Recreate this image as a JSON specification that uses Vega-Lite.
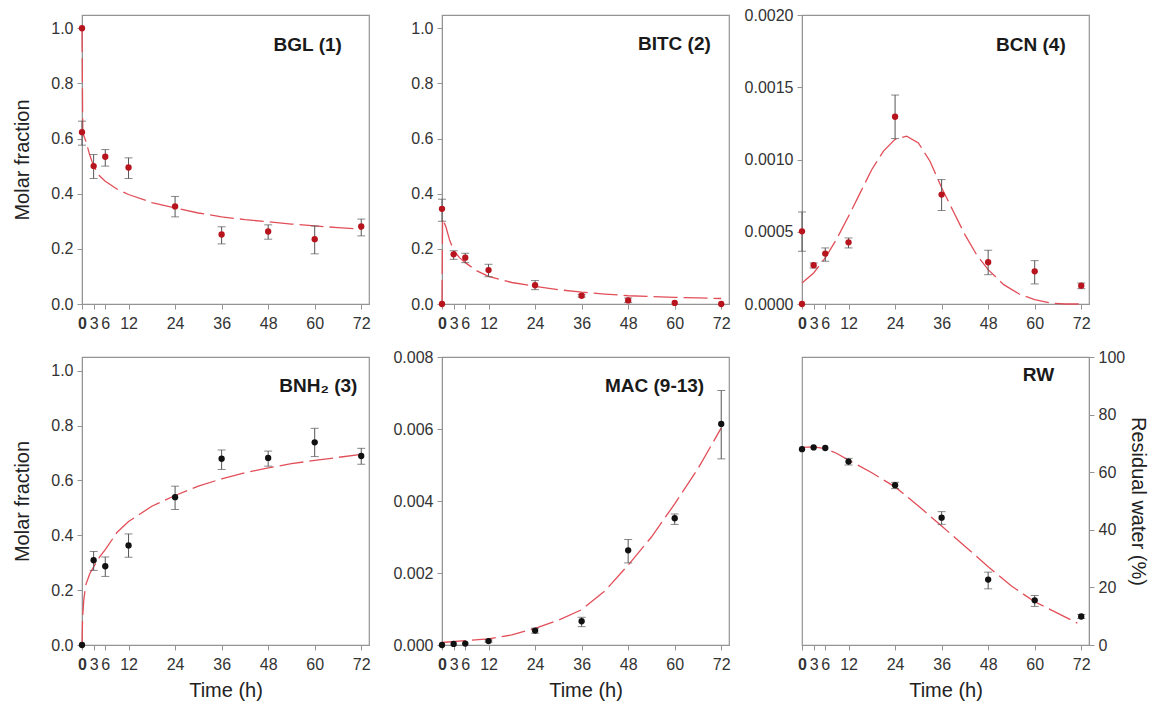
{
  "$schema": "https://vega.github.io/schema/vega-lite/v6.json",
  "padding": {"left": 12, "top": 6, "right": 5, "bottom": 5},
  "bounds": "flush",
  "columns": 3,
  "spacing": {"row": 53, "column": 73},
  "config": {
    "font": "Liberation Sans",
    "view": {"stroke": "#949494", "strokeWidth": 1.2},
    "axis": {"domainColor": "#949494", "tickColor": "#949494", "tickSize": 5, "labelFontSize": 16, "labelColor": "#333333", "titleFontSize": 20, "titleFontWeight": "normal", "titleColor": "#222222", "grid": false, "labelPadding": 4},
    "axisX": {"labelPadding": 6, "titlePadding": 8}
  },
  "datasets": {
    "points": [
      {"p": "BGL", "t": 0, "v": 1.0, "lo": null, "hi": null},
      {"p": "BGL", "t": 0, "v": 0.623, "lo": 0.576, "hi": 0.663},
      {"p": "BGL", "t": 3, "v": 0.5, "lo": 0.455, "hi": 0.542},
      {"p": "BGL", "t": 6, "v": 0.534, "lo": 0.5, "hi": 0.56},
      {"p": "BGL", "t": 12, "v": 0.495, "lo": 0.455, "hi": 0.53},
      {"p": "BGL", "t": 24, "v": 0.354, "lo": 0.316, "hi": 0.39},
      {"p": "BGL", "t": 36, "v": 0.252, "lo": 0.218, "hi": 0.28},
      {"p": "BGL", "t": 48, "v": 0.263, "lo": 0.235, "hi": 0.287},
      {"p": "BGL", "t": 60, "v": 0.235, "lo": 0.182, "hi": 0.283},
      {"p": "BGL", "t": 72, "v": 0.281, "lo": 0.247, "hi": 0.308},
      {"p": "BITC", "t": 0, "v": 0.0, "lo": null, "hi": null},
      {"p": "BITC", "t": 0, "v": 0.345, "lo": 0.3, "hi": 0.38},
      {"p": "BITC", "t": 3, "v": 0.18, "lo": 0.162, "hi": 0.193},
      {"p": "BITC", "t": 6, "v": 0.168, "lo": 0.15, "hi": 0.184},
      {"p": "BITC", "t": 12, "v": 0.123, "lo": 0.099, "hi": 0.144},
      {"p": "BITC", "t": 24, "v": 0.068, "lo": 0.052, "hi": 0.085},
      {"p": "BITC", "t": 36, "v": 0.03, "lo": 0.025, "hi": 0.035},
      {"p": "BITC", "t": 48, "v": 0.013, "lo": 0.005, "hi": 0.022},
      {"p": "BITC", "t": 60, "v": 0.004, "lo": null, "hi": null},
      {"p": "BITC", "t": 72, "v": 0.0, "lo": null, "hi": null},
      {"p": "BCN", "t": 0, "v": 0.0, "lo": null, "hi": null},
      {"p": "BCN", "t": 0, "v": 0.000503, "lo": 0.000365, "hi": 0.000637},
      {"p": "BCN", "t": 3, "v": 0.000268, "lo": 0.000249, "hi": 0.000284},
      {"p": "BCN", "t": 6, "v": 0.000349, "lo": 0.000296, "hi": 0.000388},
      {"p": "BCN", "t": 12, "v": 0.000427, "lo": 0.000388, "hi": 0.000457},
      {"p": "BCN", "t": 24, "v": 0.001296, "lo": 0.001145, "hi": 0.001446},
      {"p": "BCN", "t": 36, "v": 0.000757, "lo": 0.000647, "hi": 0.000861},
      {"p": "BCN", "t": 48, "v": 0.000289, "lo": 0.000203, "hi": 0.000372},
      {"p": "BCN", "t": 60, "v": 0.000226, "lo": 0.000139, "hi": 0.0003},
      {"p": "BCN", "t": 72, "v": 0.000127, "lo": 0.000106, "hi": 0.000145},
      {"p": "BNH", "t": 0, "v": 0.0, "lo": null, "hi": null},
      {"p": "BNH", "t": 3, "v": 0.309, "lo": 0.272, "hi": 0.341},
      {"p": "BNH", "t": 6, "v": 0.287, "lo": 0.25, "hi": 0.321},
      {"p": "BNH", "t": 12, "v": 0.363, "lo": 0.32, "hi": 0.405},
      {"p": "BNH", "t": 24, "v": 0.539, "lo": 0.494, "hi": 0.579},
      {"p": "BNH", "t": 36, "v": 0.679, "lo": 0.64, "hi": 0.711},
      {"p": "BNH", "t": 48, "v": 0.682, "lo": 0.652, "hi": 0.707},
      {"p": "BNH", "t": 60, "v": 0.739, "lo": 0.687, "hi": 0.79},
      {"p": "BNH", "t": 72, "v": 0.689, "lo": 0.659, "hi": 0.717},
      {"p": "MAC", "t": 0, "v": 0.0, "lo": null, "hi": null},
      {"p": "MAC", "t": 3, "v": 0.00003, "lo": null, "hi": null},
      {"p": "MAC", "t": 6, "v": 0.00004, "lo": null, "hi": null},
      {"p": "MAC", "t": 12, "v": 0.00011, "lo": 0.00008, "hi": 0.00014},
      {"p": "MAC", "t": 24, "v": 0.0004, "lo": 0.000326, "hi": 0.000465},
      {"p": "MAC", "t": 36, "v": 0.00066, "lo": 0.00051, "hi": 0.00077},
      {"p": "MAC", "t": 48, "v": 0.00263, "lo": 0.00228, "hi": 0.00293},
      {"p": "MAC", "t": 60, "v": 0.00352, "lo": 0.00335, "hi": 0.00364},
      {"p": "MAC", "t": 72, "v": 0.00614, "lo": 0.00517, "hi": 0.00707},
      {"p": "RW", "t": 0, "v": 68.0, "lo": null, "hi": null},
      {"p": "RW", "t": 3, "v": 68.6, "lo": null, "hi": null},
      {"p": "RW", "t": 6, "v": 68.4, "lo": null, "hi": null},
      {"p": "RW", "t": 12, "v": 63.7, "lo": 62.5, "hi": 64.8},
      {"p": "RW", "t": 24, "v": 55.5, "lo": 54.3, "hi": 56.5},
      {"p": "RW", "t": 36, "v": 44.2, "lo": 41.9, "hi": 46.3},
      {"p": "RW", "t": 48, "v": 22.7, "lo": 19.5, "hi": 25.3},
      {"p": "RW", "t": 60, "v": 15.5, "lo": 13.4, "hi": 17.2},
      {"p": "RW", "t": 72, "v": 9.9, "lo": 9.2, "hi": 10.6}
    ],
    "curves": [
      {"p": "BGL", "t": 0, "v": 1.0}, {"p": "BGL", "t": 0.2, "v": 0.62}, {"p": "BGL", "t": 1, "v": 0.59}, {"p": "BGL", "t": 2, "v": 0.54}, {"p": "BGL", "t": 3, "v": 0.5}, {"p": "BGL", "t": 4.5, "v": 0.465}, {"p": "BGL", "t": 6, "v": 0.445}, {"p": "BGL", "t": 9, "v": 0.417}, {"p": "BGL", "t": 12, "v": 0.397}, {"p": "BGL", "t": 18, "v": 0.368}, {"p": "BGL", "t": 24, "v": 0.348}, {"p": "BGL", "t": 30, "v": 0.33}, {"p": "BGL", "t": 36, "v": 0.316}, {"p": "BGL", "t": 42, "v": 0.306}, {"p": "BGL", "t": 48, "v": 0.298}, {"p": "BGL", "t": 54, "v": 0.29}, {"p": "BGL", "t": 60, "v": 0.283}, {"p": "BGL", "t": 66, "v": 0.277}, {"p": "BGL", "t": 72, "v": 0.271},
      {"p": "BITC", "t": 0, "v": 0.0}, {"p": "BITC", "t": 0.15, "v": 0.31}, {"p": "BITC", "t": 1, "v": 0.28}, {"p": "BITC", "t": 2, "v": 0.23}, {"p": "BITC", "t": 3, "v": 0.195}, {"p": "BITC", "t": 4.5, "v": 0.168}, {"p": "BITC", "t": 6, "v": 0.15}, {"p": "BITC", "t": 9, "v": 0.12}, {"p": "BITC", "t": 12, "v": 0.1}, {"p": "BITC", "t": 18, "v": 0.078}, {"p": "BITC", "t": 24, "v": 0.064}, {"p": "BITC", "t": 30, "v": 0.052}, {"p": "BITC", "t": 36, "v": 0.043}, {"p": "BITC", "t": 42, "v": 0.036}, {"p": "BITC", "t": 48, "v": 0.03}, {"p": "BITC", "t": 54, "v": 0.027}, {"p": "BITC", "t": 60, "v": 0.024}, {"p": "BITC", "t": 66, "v": 0.022}, {"p": "BITC", "t": 72, "v": 0.02},
      {"p": "BCN", "t": 0, "v": 0.000145}, {"p": "BCN", "t": 3, "v": 0.000215}, {"p": "BCN", "t": 6, "v": 0.000319}, {"p": "BCN", "t": 9, "v": 0.000453}, {"p": "BCN", "t": 12, "v": 0.000607}, {"p": "BCN", "t": 15, "v": 0.000769}, {"p": "BCN", "t": 18, "v": 0.000931}, {"p": "BCN", "t": 21, "v": 0.001058}, {"p": "BCN", "t": 24, "v": 0.001139}, {"p": "BCN", "t": 27, "v": 0.001162}, {"p": "BCN", "t": 30, "v": 0.001115}, {"p": "BCN", "t": 33, "v": 0.000988}, {"p": "BCN", "t": 36, "v": 0.000804}, {"p": "BCN", "t": 39, "v": 0.000642}, {"p": "BCN", "t": 42, "v": 0.00048}, {"p": "BCN", "t": 45, "v": 0.000342}, {"p": "BCN", "t": 48, "v": 0.000238}, {"p": "BCN", "t": 52, "v": 0.000134}, {"p": "BCN", "t": 56, "v": 0.000069}, {"p": "BCN", "t": 60, "v": 0.00003}, {"p": "BCN", "t": 64, "v": 0.000007}, {"p": "BCN", "t": 68, "v": 0.0}, {"p": "BCN", "t": 72, "v": 0.0},
      {"p": "BNH", "t": 0, "v": 0.0}, {"p": "BNH", "t": 0.15, "v": 0.1}, {"p": "BNH", "t": 0.5, "v": 0.17}, {"p": "BNH", "t": 1, "v": 0.22}, {"p": "BNH", "t": 2, "v": 0.26}, {"p": "BNH", "t": 3, "v": 0.285}, {"p": "BNH", "t": 4.5, "v": 0.32}, {"p": "BNH", "t": 6, "v": 0.348}, {"p": "BNH", "t": 9, "v": 0.41}, {"p": "BNH", "t": 12, "v": 0.45}, {"p": "BNH", "t": 18, "v": 0.506}, {"p": "BNH", "t": 24, "v": 0.545}, {"p": "BNH", "t": 30, "v": 0.579}, {"p": "BNH", "t": 36, "v": 0.606}, {"p": "BNH", "t": 42, "v": 0.628}, {"p": "BNH", "t": 48, "v": 0.646}, {"p": "BNH", "t": 54, "v": 0.661}, {"p": "BNH", "t": 60, "v": 0.673}, {"p": "BNH", "t": 66, "v": 0.684}, {"p": "BNH", "t": 72, "v": 0.695},
      {"p": "MAC", "t": 0, "v": 0.00007}, {"p": "MAC", "t": 6, "v": 0.00012}, {"p": "MAC", "t": 12, "v": 0.00017}, {"p": "MAC", "t": 18, "v": 0.00028}, {"p": "MAC", "t": 24, "v": 0.00046}, {"p": "MAC", "t": 30, "v": 0.00069}, {"p": "MAC", "t": 36, "v": 0.00098}, {"p": "MAC", "t": 42, "v": 0.0015}, {"p": "MAC", "t": 48, "v": 0.00222}, {"p": "MAC", "t": 54, "v": 0.003}, {"p": "MAC", "t": 60, "v": 0.00392}, {"p": "MAC", "t": 66, "v": 0.0049}, {"p": "MAC", "t": 72, "v": 0.00603},
      {"p": "RW", "t": 0, "v": 68.6}, {"p": "RW", "t": 3, "v": 68.8}, {"p": "RW", "t": 6, "v": 68.2}, {"p": "RW", "t": 9, "v": 66.5}, {"p": "RW", "t": 12, "v": 64.2}, {"p": "RW", "t": 18, "v": 59.8}, {"p": "RW", "t": 24, "v": 54.9}, {"p": "RW", "t": 30, "v": 48.3}, {"p": "RW", "t": 36, "v": 41.3}, {"p": "RW", "t": 42, "v": 34.3}, {"p": "RW", "t": 48, "v": 27.2}, {"p": "RW", "t": 54, "v": 20.5}, {"p": "RW", "t": 60, "v": 15.0}, {"p": "RW", "t": 66, "v": 11.0}, {"p": "RW", "t": 71, "v": 7.6}
    ]
  },
  "concat": [
    {
      "width": 287, "height": 289,
      "layer": [
        {"data": {"name": "curves"}, "transform": [{"filter": "datum.p == 'BGL'"}], "mark": {"type": "line", "color": "#e24e58", "strokeWidth": 1.3, "strokeDash": [24, 6]},
         "encoding": {"x": {"field": "t", "type": "quantitative", "scale": {"domain": [0, 74], "nice": false, "zero": false}, "axis": {"values": [0, 3, 6, 12, 24, 36, 48, 60, 72], "title": null, "labelFlush": false, "labelOverlap": false, "labelFontWeight": {"condition": {"test": "datum.value == 0", "value": "bold"}, "value": "normal"}}},
                      "y": {"field": "v", "type": "quantitative", "scale": {"domain": [0, 1.048], "nice": false}, "axis": {"values": [0, 0.2, 0.4, 0.6, 0.8, 1.0], "format": ".1f", "title": "Molar fraction", "titlePadding": 18}}}},
        {"data": {"name": "points"}, "transform": [{"filter": "datum.p == 'BGL' && datum.lo != null"}], "mark": {"type": "errorbar", "ticks": true, "size": 8, "thickness": 1, "color": "#555555"},
         "encoding": {"x": {"field": "t", "type": "quantitative", "scale": {"domain": [0, 74], "nice": false, "zero": false}, "axis": {"values": [0, 3, 6, 12, 24, 36, 48, 60, 72], "title": null, "labelFlush": false, "labelOverlap": false, "labelFontWeight": {"condition": {"test": "datum.value == 0", "value": "bold"}, "value": "normal"}}},
                      "y": {"field": "lo", "type": "quantitative", "scale": {"domain": [0, 1.048], "nice": false}, "axis": {"values": [0, 0.2, 0.4, 0.6, 0.8, 1.0], "format": ".1f", "title": "Molar fraction", "titlePadding": 18}},
                      "y2": {"field": "hi"}}},
        {"data": {"name": "points"}, "transform": [{"filter": "datum.p == 'BGL'"}], "mark": {"type": "circle", "size": 40, "opacity": 1, "color": "#b8141e"},
         "encoding": {"x": {"field": "t", "type": "quantitative", "scale": {"domain": [0, 74], "nice": false, "zero": false}, "axis": {"values": [0, 3, 6, 12, 24, 36, 48, 60, 72], "title": null, "labelFlush": false, "labelOverlap": false, "labelFontWeight": {"condition": {"test": "datum.value == 0", "value": "bold"}, "value": "normal"}}},
                      "y": {"field": "v", "type": "quantitative", "scale": {"domain": [0, 1.048], "nice": false}, "axis": {"values": [0, 0.2, 0.4, 0.6, 0.8, 1.0], "format": ".1f", "title": "Molar fraction", "titlePadding": 18}}}},
        {"data": {"values": [{}]}, "mark": {"type": "text", "text": "BGL (1)", "align": "right", "baseline": "middle", "fontSize": 19, "fontWeight": "bold", "color": "#1a1a1a"},
         "encoding": {"x": {"datum": 67, "type": "quantitative", "scale": {"domain": [0, 74], "nice": false, "zero": false}, "axis": {"values": [0, 3, 6, 12, 24, 36, 48, 60, 72], "title": null, "labelFlush": false, "labelOverlap": false, "labelFontWeight": {"condition": {"test": "datum.value == 0", "value": "bold"}, "value": "normal"}}},
                      "y": {"datum": 0.941, "type": "quantitative", "scale": {"domain": [0, 1.048], "nice": false}, "axis": {"values": [0, 0.2, 0.4, 0.6, 0.8, 1.0], "format": ".1f", "title": "Molar fraction", "titlePadding": 18}}}}
      ]
    },
    {
      "width": 287, "height": 289,
      "layer": [
        {"data": {"name": "curves"}, "transform": [{"filter": "datum.p == 'BITC'"}], "mark": {"type": "line", "color": "#e24e58", "strokeWidth": 1.3, "strokeDash": [24, 6]},
         "encoding": {"x": {"field": "t", "type": "quantitative", "scale": {"domain": [0, 74], "nice": false, "zero": false}, "axis": {"values": [0, 3, 6, 12, 24, 36, 48, 60, 72], "title": null, "labelFlush": false, "labelOverlap": false, "labelFontWeight": {"condition": {"test": "datum.value == 0", "value": "bold"}, "value": "normal"}}},
                      "y": {"field": "v", "type": "quantitative", "scale": {"domain": [0, 1.048], "nice": false}, "axis": {"values": [0, 0.2, 0.4, 0.6, 0.8, 1.0], "format": ".1f", "title": null}}}},
        {"data": {"name": "points"}, "transform": [{"filter": "datum.p == 'BITC' && datum.lo != null"}], "mark": {"type": "errorbar", "ticks": true, "size": 8, "thickness": 1, "color": "#555555"},
         "encoding": {"x": {"field": "t", "type": "quantitative", "scale": {"domain": [0, 74], "nice": false, "zero": false}, "axis": {"values": [0, 3, 6, 12, 24, 36, 48, 60, 72], "title": null, "labelFlush": false, "labelOverlap": false, "labelFontWeight": {"condition": {"test": "datum.value == 0", "value": "bold"}, "value": "normal"}}},
                      "y": {"field": "lo", "type": "quantitative", "scale": {"domain": [0, 1.048], "nice": false}, "axis": {"values": [0, 0.2, 0.4, 0.6, 0.8, 1.0], "format": ".1f", "title": null}},
                      "y2": {"field": "hi"}}},
        {"data": {"name": "points"}, "transform": [{"filter": "datum.p == 'BITC'"}], "mark": {"type": "circle", "size": 40, "opacity": 1, "color": "#b8141e"},
         "encoding": {"x": {"field": "t", "type": "quantitative", "scale": {"domain": [0, 74], "nice": false, "zero": false}, "axis": {"values": [0, 3, 6, 12, 24, 36, 48, 60, 72], "title": null, "labelFlush": false, "labelOverlap": false, "labelFontWeight": {"condition": {"test": "datum.value == 0", "value": "bold"}, "value": "normal"}}},
                      "y": {"field": "v", "type": "quantitative", "scale": {"domain": [0, 1.048], "nice": false}, "axis": {"values": [0, 0.2, 0.4, 0.6, 0.8, 1.0], "format": ".1f", "title": null}}}},
        {"data": {"values": [{}]}, "mark": {"type": "text", "text": "BITC (2)", "align": "right", "baseline": "middle", "fontSize": 19, "fontWeight": "bold", "color": "#1a1a1a"},
         "encoding": {"x": {"datum": 69.3, "type": "quantitative", "scale": {"domain": [0, 74], "nice": false, "zero": false}, "axis": {"values": [0, 3, 6, 12, 24, 36, 48, 60, 72], "title": null, "labelFlush": false, "labelOverlap": false, "labelFontWeight": {"condition": {"test": "datum.value == 0", "value": "bold"}, "value": "normal"}}},
                      "y": {"datum": 0.942, "type": "quantitative", "scale": {"domain": [0, 1.048], "nice": false}, "axis": {"values": [0, 0.2, 0.4, 0.6, 0.8, 1.0], "format": ".1f", "title": null}}}}
      ]
    },
    {
      "width": 287, "height": 289,
      "layer": [
        {"data": {"name": "curves"}, "transform": [{"filter": "datum.p == 'BCN'"}], "mark": {"type": "line", "color": "#e24e58", "strokeWidth": 1.3, "strokeDash": [24, 6]},
         "encoding": {"x": {"field": "t", "type": "quantitative", "scale": {"domain": [0, 74], "nice": false, "zero": false}, "axis": {"values": [0, 3, 6, 12, 24, 36, 48, 60, 72], "title": null, "labelFlush": false, "labelOverlap": false, "labelFontWeight": {"condition": {"test": "datum.value == 0", "value": "bold"}, "value": "normal"}}},
                      "y": {"field": "v", "type": "quantitative", "scale": {"domain": [0, 0.002], "nice": false}, "axis": {"values": [0, 0.0005, 0.001, 0.0015, 0.002], "format": ".4f", "title": null}}}},
        {"data": {"name": "points"}, "transform": [{"filter": "datum.p == 'BCN' && datum.lo != null"}], "mark": {"type": "errorbar", "ticks": true, "size": 8, "thickness": 1, "color": "#555555"},
         "encoding": {"x": {"field": "t", "type": "quantitative", "scale": {"domain": [0, 74], "nice": false, "zero": false}, "axis": {"values": [0, 3, 6, 12, 24, 36, 48, 60, 72], "title": null, "labelFlush": false, "labelOverlap": false, "labelFontWeight": {"condition": {"test": "datum.value == 0", "value": "bold"}, "value": "normal"}}},
                      "y": {"field": "lo", "type": "quantitative", "scale": {"domain": [0, 0.002], "nice": false}, "axis": {"values": [0, 0.0005, 0.001, 0.0015, 0.002], "format": ".4f", "title": null}},
                      "y2": {"field": "hi"}}},
        {"data": {"name": "points"}, "transform": [{"filter": "datum.p == 'BCN'"}], "mark": {"type": "circle", "size": 40, "opacity": 1, "color": "#b8141e"},
         "encoding": {"x": {"field": "t", "type": "quantitative", "scale": {"domain": [0, 74], "nice": false, "zero": false}, "axis": {"values": [0, 3, 6, 12, 24, 36, 48, 60, 72], "title": null, "labelFlush": false, "labelOverlap": false, "labelFontWeight": {"condition": {"test": "datum.value == 0", "value": "bold"}, "value": "normal"}}},
                      "y": {"field": "v", "type": "quantitative", "scale": {"domain": [0, 0.002], "nice": false}, "axis": {"values": [0, 0.0005, 0.001, 0.0015, 0.002], "format": ".4f", "title": null}}}},
        {"data": {"values": [{}]}, "mark": {"type": "text", "text": "BCN (4)", "align": "right", "baseline": "middle", "fontSize": 19, "fontWeight": "bold", "color": "#1a1a1a"},
         "encoding": {"x": {"datum": 68, "type": "quantitative", "scale": {"domain": [0, 74], "nice": false, "zero": false}, "axis": {"values": [0, 3, 6, 12, 24, 36, 48, 60, 72], "title": null, "labelFlush": false, "labelOverlap": false, "labelFontWeight": {"condition": {"test": "datum.value == 0", "value": "bold"}, "value": "normal"}}},
                      "y": {"datum": 0.00179, "type": "quantitative", "scale": {"domain": [0, 0.002], "nice": false}, "axis": {"values": [0, 0.0005, 0.001, 0.0015, 0.002], "format": ".4f", "title": null}}}}
      ]
    },
    {
      "width": 287, "height": 288,
      "layer": [
        {"data": {"name": "curves"}, "transform": [{"filter": "datum.p == 'BNH'"}], "mark": {"type": "line", "color": "#e24e58", "strokeWidth": 1.3, "strokeDash": [24, 6]},
         "encoding": {"x": {"field": "t", "type": "quantitative", "scale": {"domain": [0, 74], "nice": false, "zero": false}, "axis": {"values": [0, 3, 6, 12, 24, 36, 48, 60, 72], "title": "Time (h)", "labelFlush": false, "labelOverlap": false, "labelFontWeight": {"condition": {"test": "datum.value == 0", "value": "bold"}, "value": "normal"}}},
                      "y": {"field": "v", "type": "quantitative", "scale": {"domain": [0, 1.05], "nice": false}, "axis": {"values": [0, 0.2, 0.4, 0.6, 0.8, 1.0], "format": ".1f", "title": "Molar fraction", "titlePadding": 18}}}},
        {"data": {"name": "points"}, "transform": [{"filter": "datum.p == 'BNH' && datum.lo != null"}], "mark": {"type": "errorbar", "ticks": true, "size": 8, "thickness": 1, "color": "#555555"},
         "encoding": {"x": {"field": "t", "type": "quantitative", "scale": {"domain": [0, 74], "nice": false, "zero": false}, "axis": {"values": [0, 3, 6, 12, 24, 36, 48, 60, 72], "title": "Time (h)", "labelFlush": false, "labelOverlap": false, "labelFontWeight": {"condition": {"test": "datum.value == 0", "value": "bold"}, "value": "normal"}}},
                      "y": {"field": "lo", "type": "quantitative", "scale": {"domain": [0, 1.05], "nice": false}, "axis": {"values": [0, 0.2, 0.4, 0.6, 0.8, 1.0], "format": ".1f", "title": "Molar fraction", "titlePadding": 18}},
                      "y2": {"field": "hi"}}},
        {"data": {"name": "points"}, "transform": [{"filter": "datum.p == 'BNH'"}], "mark": {"type": "circle", "size": 40, "opacity": 1, "color": "#111111"},
         "encoding": {"x": {"field": "t", "type": "quantitative", "scale": {"domain": [0, 74], "nice": false, "zero": false}, "axis": {"values": [0, 3, 6, 12, 24, 36, 48, 60, 72], "title": "Time (h)", "labelFlush": false, "labelOverlap": false, "labelFontWeight": {"condition": {"test": "datum.value == 0", "value": "bold"}, "value": "normal"}}},
                      "y": {"field": "v", "type": "quantitative", "scale": {"domain": [0, 1.05], "nice": false}, "axis": {"values": [0, 0.2, 0.4, 0.6, 0.8, 1.0], "format": ".1f", "title": "Molar fraction", "titlePadding": 18}}}},
        {"data": {"values": [{}]}, "mark": {"type": "text", "text": "BNH₂ (3)", "align": "right", "baseline": "middle", "fontSize": 19, "fontWeight": "bold", "color": "#1a1a1a"},
         "encoding": {"x": {"datum": 71, "type": "quantitative", "scale": {"domain": [0, 74], "nice": false, "zero": false}, "axis": {"values": [0, 3, 6, 12, 24, 36, 48, 60, 72], "title": "Time (h)", "labelFlush": false, "labelOverlap": false, "labelFontWeight": {"condition": {"test": "datum.value == 0", "value": "bold"}, "value": "normal"}}},
                      "y": {"datum": 0.945, "type": "quantitative", "scale": {"domain": [0, 1.05], "nice": false}, "axis": {"values": [0, 0.2, 0.4, 0.6, 0.8, 1.0], "format": ".1f", "title": "Molar fraction", "titlePadding": 18}}}}
      ]
    },
    {
      "width": 287, "height": 288,
      "layer": [
        {"data": {"name": "curves"}, "transform": [{"filter": "datum.p == 'MAC'"}], "mark": {"type": "line", "color": "#e24e58", "strokeWidth": 1.3, "strokeDash": [24, 6]},
         "encoding": {"x": {"field": "t", "type": "quantitative", "scale": {"domain": [0, 74], "nice": false, "zero": false}, "axis": {"values": [0, 3, 6, 12, 24, 36, 48, 60, 72], "title": "Time (h)", "labelFlush": false, "labelOverlap": false, "labelFontWeight": {"condition": {"test": "datum.value == 0", "value": "bold"}, "value": "normal"}}},
                      "y": {"field": "v", "type": "quantitative", "scale": {"domain": [0, 0.008], "nice": false}, "axis": {"values": [0, 0.002, 0.004, 0.006, 0.008], "format": ".3f", "title": null}}}},
        {"data": {"name": "points"}, "transform": [{"filter": "datum.p == 'MAC' && datum.lo != null"}], "mark": {"type": "errorbar", "ticks": true, "size": 8, "thickness": 1, "color": "#555555"},
         "encoding": {"x": {"field": "t", "type": "quantitative", "scale": {"domain": [0, 74], "nice": false, "zero": false}, "axis": {"values": [0, 3, 6, 12, 24, 36, 48, 60, 72], "title": "Time (h)", "labelFlush": false, "labelOverlap": false, "labelFontWeight": {"condition": {"test": "datum.value == 0", "value": "bold"}, "value": "normal"}}},
                      "y": {"field": "lo", "type": "quantitative", "scale": {"domain": [0, 0.008], "nice": false}, "axis": {"values": [0, 0.002, 0.004, 0.006, 0.008], "format": ".3f", "title": null}},
                      "y2": {"field": "hi"}}},
        {"data": {"name": "points"}, "transform": [{"filter": "datum.p == 'MAC'"}], "mark": {"type": "circle", "size": 40, "opacity": 1, "color": "#111111"},
         "encoding": {"x": {"field": "t", "type": "quantitative", "scale": {"domain": [0, 74], "nice": false, "zero": false}, "axis": {"values": [0, 3, 6, 12, 24, 36, 48, 60, 72], "title": "Time (h)", "labelFlush": false, "labelOverlap": false, "labelFontWeight": {"condition": {"test": "datum.value == 0", "value": "bold"}, "value": "normal"}}},
                      "y": {"field": "v", "type": "quantitative", "scale": {"domain": [0, 0.008], "nice": false}, "axis": {"values": [0, 0.002, 0.004, 0.006, 0.008], "format": ".3f", "title": null}}}},
        {"data": {"values": [{}]}, "mark": {"type": "text", "text": "MAC (9-13)", "align": "right", "baseline": "middle", "fontSize": 19, "fontWeight": "bold", "color": "#1a1a1a"},
         "encoding": {"x": {"datum": 67.6, "type": "quantitative", "scale": {"domain": [0, 74], "nice": false, "zero": false}, "axis": {"values": [0, 3, 6, 12, 24, 36, 48, 60, 72], "title": "Time (h)", "labelFlush": false, "labelOverlap": false, "labelFontWeight": {"condition": {"test": "datum.value == 0", "value": "bold"}, "value": "normal"}}},
                      "y": {"datum": 0.00719, "type": "quantitative", "scale": {"domain": [0, 0.008], "nice": false}, "axis": {"values": [0, 0.002, 0.004, 0.006, 0.008], "format": ".3f", "title": null}}}}
      ]
    },
    {
      "width": 287, "height": 288,
      "layer": [
        {"data": {"name": "curves"}, "transform": [{"filter": "datum.p == 'RW'"}], "mark": {"type": "line", "color": "#e24e58", "strokeWidth": 1.3, "strokeDash": [24, 6]},
         "encoding": {"x": {"field": "t", "type": "quantitative", "scale": {"domain": [0, 74], "nice": false, "zero": false}, "axis": {"values": [0, 3, 6, 12, 24, 36, 48, 60, 72], "title": "Time (h)", "labelFlush": false, "labelOverlap": false, "labelFontWeight": {"condition": {"test": "datum.value == 0", "value": "bold"}, "value": "normal"}}},
                      "y": {"field": "v", "type": "quantitative", "scale": {"domain": [0, 100], "nice": false}, "axis": {"orient": "right", "values": [0, 20, 40, 60, 80, 100], "title": "Residual water (%)", "titlePadding": 3}}}},
        {"data": {"name": "points"}, "transform": [{"filter": "datum.p == 'RW' && datum.lo != null"}], "mark": {"type": "errorbar", "ticks": true, "size": 8, "thickness": 1, "color": "#555555"},
         "encoding": {"x": {"field": "t", "type": "quantitative", "scale": {"domain": [0, 74], "nice": false, "zero": false}, "axis": {"values": [0, 3, 6, 12, 24, 36, 48, 60, 72], "title": "Time (h)", "labelFlush": false, "labelOverlap": false, "labelFontWeight": {"condition": {"test": "datum.value == 0", "value": "bold"}, "value": "normal"}}},
                      "y": {"field": "lo", "type": "quantitative", "scale": {"domain": [0, 100], "nice": false}, "axis": {"orient": "right", "values": [0, 20, 40, 60, 80, 100], "title": "Residual water (%)", "titlePadding": 3}},
                      "y2": {"field": "hi"}}},
        {"data": {"name": "points"}, "transform": [{"filter": "datum.p == 'RW'"}], "mark": {"type": "circle", "size": 40, "opacity": 1, "color": "#111111"},
         "encoding": {"x": {"field": "t", "type": "quantitative", "scale": {"domain": [0, 74], "nice": false, "zero": false}, "axis": {"values": [0, 3, 6, 12, 24, 36, 48, 60, 72], "title": "Time (h)", "labelFlush": false, "labelOverlap": false, "labelFontWeight": {"condition": {"test": "datum.value == 0", "value": "bold"}, "value": "normal"}}},
                      "y": {"field": "v", "type": "quantitative", "scale": {"domain": [0, 100], "nice": false}, "axis": {"orient": "right", "values": [0, 20, 40, 60, 80, 100], "title": "Residual water (%)", "titlePadding": 3}}}},
        {"data": {"values": [{}]}, "mark": {"type": "text", "text": "RW", "align": "right", "baseline": "middle", "fontSize": 19, "fontWeight": "bold", "color": "#1a1a1a"},
         "encoding": {"x": {"datum": 65, "type": "quantitative", "scale": {"domain": [0, 74], "nice": false, "zero": false}, "axis": {"values": [0, 3, 6, 12, 24, 36, 48, 60, 72], "title": "Time (h)", "labelFlush": false, "labelOverlap": false, "labelFontWeight": {"condition": {"test": "datum.value == 0", "value": "bold"}, "value": "normal"}}},
                      "y": {"datum": 93.6, "type": "quantitative", "scale": {"domain": [0, 100], "nice": false}, "axis": {"orient": "right", "values": [0, 20, 40, 60, 80, 100], "title": "Residual water (%)", "titlePadding": 3}}}}
      ]
    }
  ]
}
